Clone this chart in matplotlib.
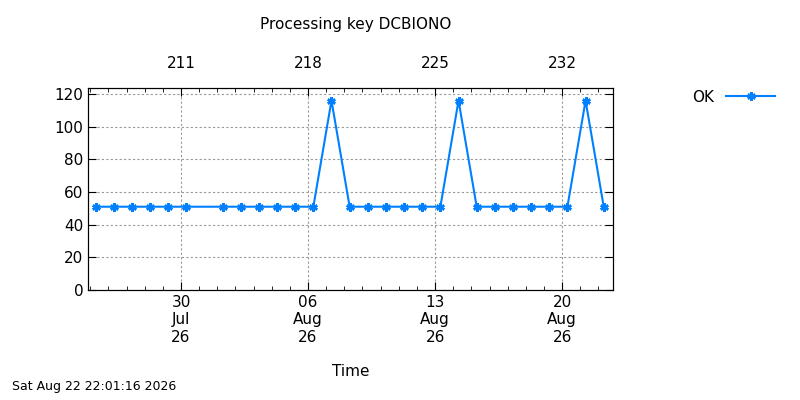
import matplotlib
matplotlib.use("Agg")
import matplotlib.pyplot as plt
import matplotlib.dates as mdates
from matplotlib.ticker import MultipleLocator, FixedLocator
import datetime as dt

dates = ["2026-07-25","2026-07-26","2026-07-27","2026-07-28","2026-07-29","2026-07-30",
         "2026-08-01","2026-08-02","2026-08-03","2026-08-04","2026-08-05","2026-08-06",
         "2026-08-07","2026-08-08","2026-08-09","2026-08-10","2026-08-11","2026-08-12",
         "2026-08-13","2026-08-14","2026-08-15","2026-08-16","2026-08-17","2026-08-18",
         "2026-08-19","2026-08-20","2026-08-21","2026-08-22"]
ok = [51,51,51,51,51,51, 51,51,51,51,51,51, 116,51,51,51,51,51, 51,116,51,51,51,51, 51,51,116,51]
doy_ticks = [211, 218, 225, 232]

x = [mdates.date2num(dt.datetime.strptime(d, "%Y-%m-%d") + dt.timedelta(hours=7)) for d in dates]

fig = plt.figure(figsize=(8, 4), dpi=100)
ax = fig.add_axes([0.11, 0.275, 0.656, 0.505])
c = "#0080ff"
ax.plot(x, ok, color=c, lw=1.5, marker=(6, 2, 0), ms=6, mew=1.8, label="OK")
x0 = mdates.date2num(dt.datetime(2026, 7, 24, 21))
x1 = mdates.date2num(dt.datetime(2026, 8, 22, 19))
ax.set_xlim(x0, x1)
ax.set_ylim(0, 123.7)
ax.yaxis.set_major_locator(MultipleLocator(20))
ax.xaxis.set_major_locator(mdates.DayLocator(bymonthday=[30, 6, 13, 20]))
ax.xaxis.set_minor_locator(mdates.DayLocator())
ax.xaxis.set_major_formatter(mdates.DateFormatter("%d\n%b\n%y"))
ax.grid(True, color="#999999", ls=(0, (2, 2)), lw=0.8)
ax.tick_params(which="both", direction="in", top=False, right=True, labelsize=11)
ax.tick_params(which="major", length=6)
ax.tick_params(which="minor", length=3)
ax.set_xlabel("Time", fontsize=11, labelpad=14)

base = dt.datetime(2026, 1, 1)
top = ax.twiny()
top.set_xlim(x0, x1)
top.xaxis.set_major_locator(FixedLocator([mdates.date2num(base + dt.timedelta(days=d - 1)) for d in doy_ticks]))
top.set_xticklabels([str(d) for d in doy_ticks])
top.xaxis.set_minor_locator(mdates.DayLocator())
top.tick_params(which="both", direction="in", labelsize=11, pad=12)
top.tick_params(which="major", length=6)
top.tick_params(which="minor", length=3)

fig.text(0.445, 0.94, "Processing key DCBIONO", ha="center", va="center", fontsize=11)
fig.text(0.015, 0.025, "Sat Aug 22 22:01:16 2026", fontsize=9)
ax.legend(loc="upper left", bbox_to_anchor=(1.125, 1.06), frameon=False, markerfirst=False,
          fontsize=11, handlelength=3.2, handletextpad=0.8)
fig.savefig("out.png")
